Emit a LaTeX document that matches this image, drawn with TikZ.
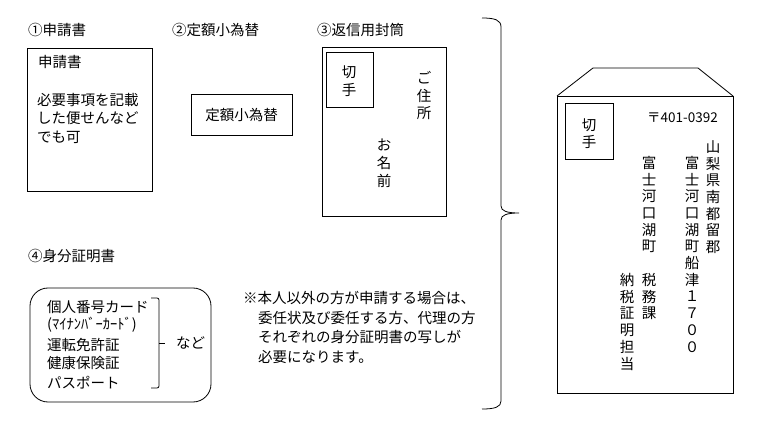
\documentclass[tikz,border=0pt]{standalone}
\usepackage{fontspec}
\setmainfont{Noto Sans CJK JP}
\begin{document}
\tikzset{
  txt/.style={inner sep=0pt, font=\fontsize{14.5pt}{17pt}\selectfont},
  lt/.style={txt, anchor=west},
  ch/.style={txt, anchor=center},
  frame/.style={draw=black, line width=0.8pt},
}
\begin{tikzpicture}[x=1pt,y=-1pt]
\useasboundingbox (0,0) rectangle (761,433);
\fill[white] (0,0) rectangle (761,433);

% headers
\node[lt] (h1) at (28,30) {①申請書};
\node[lt] (h2) at (172,30) {②定額小為替};
\node[lt] (h3) at (317,30) {③返信用封筒};
\node[lt] (h4) at (28,256) {④身分証明書};

% box 1
\draw[frame] (27,48) rectangle (152,191);
\node[lt] (b1a) at (38,62) {申請書};
\node[lt] (b1b) at (37,100) {必要事項を記載};
\node[lt] (b1c) at (37,118) {した便せんなど};
\node[lt] (b1d) at (37,137) {でも可};

% box 2
\draw[frame] (191,94) rectangle (292,135);
\node[ch] (b2) at (241.5,115) {定額小為替};

% box 3 (return envelope)
\draw[frame] (322,47) rectangle (446,216);
\draw[frame] (326,52) rectangle (373,107);
\node[ch] (s1a) at (349,72) {切};
\node[ch] (s1b) at (349,90) {手};
\foreach \c [count=\i from 0] in {ご,住,所}
  \node[ch] (ad\i) at (424,78+17.5*\i) {\c};
\foreach \c [count=\i from 0] in {お,名,前}
  \node[ch] (nm\i) at (384,145+18*\i) {\c};

% big brace
\draw[frame] (482,18) .. controls (495,18) and (501,20) .. (501,27)
  -- (501,206) .. controls (501,211) and (507,213) .. (519,213)
  .. controls (507,213) and (501,215) .. (501,220)
  -- (501,401) .. controls (501,407) and (495,409) .. (482,409);

% envelope
\draw[frame] (557,96) -- (593,68) -- (698,68) -- (733,96);
\draw[frame] (557,96) rectangle (733,393);
\draw[frame] (565,103) rectangle (613,159);
\node[ch] (s2a) at (589,125) {切};
\node[ch] (s2b) at (589,142) {手};
\node[anchor=east, inner sep=0pt, font=\fontsize{13.5pt}{16pt}\selectfont] (zip) at (718,118) {〒401-0392};
\foreach \c [count=\i from 0] in {山,梨,県,南,都,留,郡}
  \node[ch] (a\i) at (713,147+16.7*\i) {\c};
\foreach \c [count=\i from 0] in {富,士,河,口,湖,町,船,津,１,７,０,０}
  \node[ch] (b\i) at (692,163+16.7*\i) {\c};
\foreach \c [count=\i from 0] in {富,士,河,口,湖,町}
  \node[ch] (c\i) at (649,163+16.7*\i) {\c};
\foreach \c [count=\i from 0] in {税,務,課}
  \node[ch] (d\i) at (649,280+16.7*\i) {\c};
\foreach \c [count=\i from 0] in {納,税,証,明,担,当}
  \node[ch] (e\i) at (627,280+16.7*\i) {\c};

% ID box
\draw[frame, rounded corners=18pt] (30,288) rectangle (211,402);
\node[lt] (i1) at (47,307) {個人番号カード};
\node[lt] (i2) at (47,325) {(ﾏｲﾅﾝﾊﾞｰｶｰﾄﾞ)};
\node[lt] (i3) at (47,345) {運転免許証};
\node[lt] (i4) at (47,363) {健康保険証};
\node[lt] (i5) at (47,383) {パスポート};
\draw[frame, rounded corners=2pt] (151,298) -- (159,298) -- (159,388) -- (151,388);
\draw[frame] (159,343) -- (165,343);
\node[lt] (etc) at (176,343) {など};

% note
\node[lt] (n1) at (243,298) {※本人以外の方が申請する場合は、};
\node[lt] (n2) at (258,318) {委任状及び委任する方、代理の方};
\node[lt] (n3) at (258,337) {それぞれの身分証明書の写しが};
\node[lt] (n4) at (258,357) {必要になります。};
\end{tikzpicture}
\end{document}
